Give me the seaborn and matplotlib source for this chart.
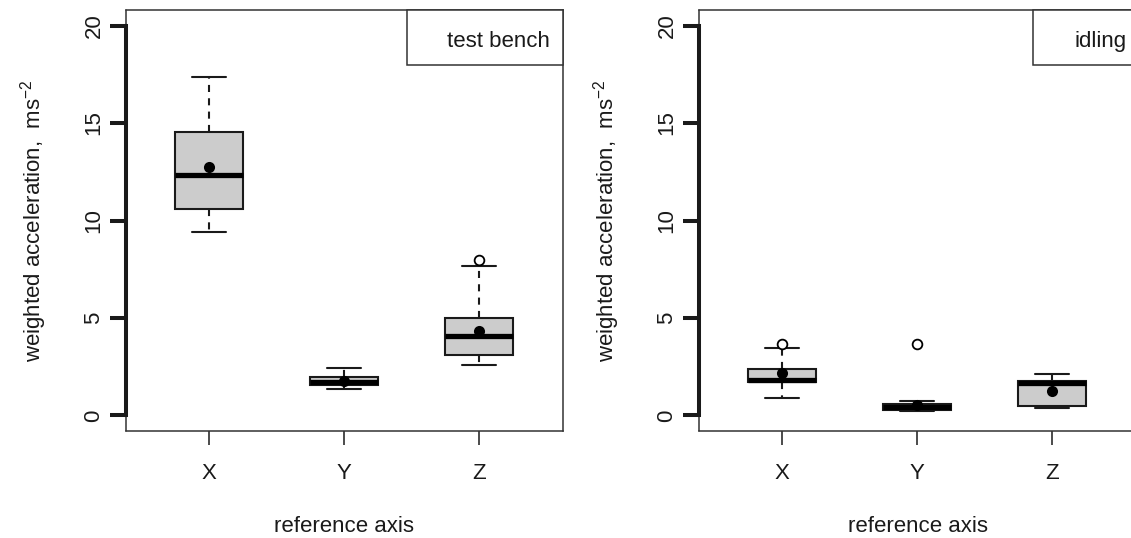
import numpy as np
import pandas as pd
import matplotlib
matplotlib.use("Agg")
import matplotlib.pyplot as plt
from matplotlib.patches import Rectangle
import seaborn as sns

# ---------------- data ----------------
axes_names = ["X", "Y", "Z"]

# test bench: five-number summaries, means, outliers
bench_lower = [9.39, 1.38, 2.60]
bench_q1 = [10.59, 1.55, 3.12]
bench_median = [12.32, 1.72, 4.08]
bench_q3 = [14.56, 1.95, 5.00]
bench_upper = [17.36, 2.41, 7.68]
bench_mean = [12.75, 1.77, 4.31]
bench_out_axis = ["Z"]
bench_out_value = [7.98]

# idling
idle_lower = [0.90, 0.22, 0.38]
idle_q1 = [1.69, 0.28, 0.50]
idle_median = [1.84, 0.43, 1.64]
idle_q3 = [2.38, 0.57, 1.76]
idle_upper = [3.44, 0.76, 2.15]
idle_mean = [2.17, 0.55, 1.24]
idle_out_axis = ["X", "Y"]
idle_out_value = [3.67, 3.65]

panel_titles = ["test bench", "idling"]
y_ticks = [0, 5, 10, 15, 20]

# ---------------- style ----------------
sns.set_theme(style="white")
plt.rcParams["font.family"] = ["Liberation Sans", "DejaVu Sans"]
plt.rcParams["mathtext.default"] = "regular"
TXT = "#1a1a1a"
FRAME = "#333333"


def summary_frame(lower, q1, med, q3, upper):
    rows = []
    for i, name in enumerate(axes_names):
        for v in (lower[i], q1[i], med[i], q3[i], upper[i]):
            rows.append((name, v))
    return pd.DataFrame(rows, columns=["axis", "value"])


fig = plt.figure(figsize=(11.31, 5.38), dpi=100)
W, H = 1131.0, 538.0
ax_w = 437 / W
ax_h = 421 / H
ax_b = (538 - 431) / H
ax1 = fig.add_axes([126 / W, ax_b, ax_w, ax_h])
ax2 = fig.add_axes([699 / W, ax_b, ax_w, ax_h])

panels = [
    (ax1, summary_frame(bench_lower, bench_q1, bench_median, bench_q3, bench_upper),
     bench_mean, bench_out_axis, bench_out_value, panel_titles[0], 0.643, 0.7346),
    (ax2, summary_frame(idle_lower, idle_q1, idle_median, idle_q3, idle_upper),
     idle_mean, idle_out_axis, idle_out_value, panel_titles[1], 0.764, 0.860),
]

for ax, df, means, out_ax, out_val, title, box_x, text_x in panels:
    sns.boxplot(data=df, x="axis", y="value", order=axes_names, whis=(0, 100),
                width=0.5, color="#cccccc", saturation=1, linecolor=TXT,
                linewidth=1.5, showfliers=False,
                medianprops=dict(linewidth=3.8, color="black"),
                whiskerprops=dict(linestyle=(0, (3.4, 3.0))),
                ax=ax)
    sns.stripplot(x=axes_names, y=means, order=axes_names, jitter=False,
                  color="black", size=8, ax=ax, zorder=10)
    sns.stripplot(x=out_ax, y=out_val, order=axes_names, jitter=False,
                  color="white", edgecolor="black", linewidth=1.3, size=7,
                  ax=ax, zorder=10)

    ax.set_xlim(-0.615, 2.622)
    ax.set_ylim(-0.8, 20.8)
    ax.set_yticks(y_ticks)
    ax.set_yticklabels([str(t) for t in y_ticks], rotation=90, va="center")
    ax.set_xticks([0, 1, 2])
    ax.set_xticklabels(axes_names)

    ax.tick_params(axis="y", length=11.5, width=2.9, pad=4, labelsize=16,
                   direction="out", colors=TXT, left=True)
    ax.tick_params(axis="x", length=10, width=1.1, pad=13, labelsize=16,
                   direction="out", colors=TXT, bottom=True)
    for s in ("top", "right", "bottom"):
        ax.spines[s].set_linewidth(1.1)
        ax.spines[s].set_color(FRAME)
    ax.spines["left"].set_linewidth(2.9)
    ax.spines["left"].set_color(TXT)
    ax.spines["left"].set_bounds(0, 20)
    ax.plot([0, 0], [0, 1], transform=ax.transAxes, color=FRAME, lw=1.1,
            clip_on=False, zorder=1)

    ax.set_xlabel("reference axis", fontsize=16, color=TXT)
    ax.xaxis.set_label_coords(0.5, -0.203)
    ax.set_ylabel(r"weighted acceleration,  ms$^{-2}$", fontsize=16, color=TXT)
    ax.yaxis.set_label_coords(-0.176, 0.5)

    ax.add_patch(Rectangle((box_x, 0.869), 1 - box_x, 0.131,
                           transform=ax.transAxes, facecolor="white",
                           edgecolor=FRAME, lw=1.1, clip_on=False, zorder=6))
    ax.text(text_x, 0.925, title, transform=ax.transAxes, ha="left",
            va="center", fontsize=16, color=TXT, zorder=7)

fig.savefig("out.png", dpi=100)
